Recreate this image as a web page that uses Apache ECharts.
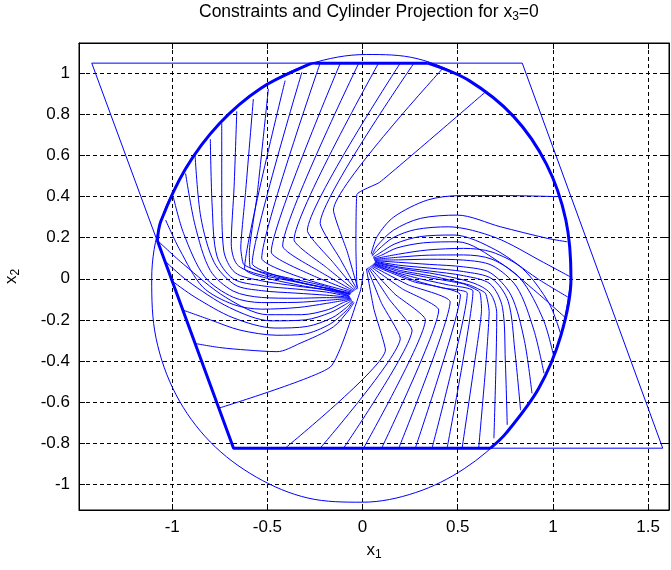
<!DOCTYPE html>
<html>
<head>
<meta charset="utf-8">
<script src="https://cdn.jsdelivr.net/npm/echarts@6/dist/echarts.min.js"></script>
<style>
html,body{margin:0;padding:0;background:#fff;}
#chart{width:671px;height:570px;}
</style>
</head>
<body>
<div id="chart"></div>
<script>
// ---------- data ----------
const xExtent = [-1.49, 1.61];
const yExtent = [-1.126, 1.148];

// projection of the cylinder (thin closed curve)
const cylinderCurve = [[1.095,0],[1.068,0.286],[0.966,0.558],[0.792,0.792],[0.558,0.966],[0.286,1.072],[0.02,1.092],[-0.279,1.045],[-0.534,0.928],[-0.753,0.755],[-0.93,0.536],[-1.06,0.28],[-1.108,0],[-1.085,-0.29],[-0.98,-0.565],[-0.8,-0.795],[-0.558,-0.966],[-0.286,-1.068],[0,-1.088],[0.279,-1.041],[0.534,-0.925],[0.753,-0.753],[0.925,-0.534],[1.041,-0.279],[1.095,0]];

// linear constraints (thin parallelogram)
const constraintBox = [[-1.423,1.05],[0.839,1.05],[1.577,-0.825],[-0.678,-0.825],[-1.423,1.05]];

// boundary of the feasible set (thick)
const feasibleRightArc = [[0.342,1.05],[0.558,0.966],[0.792,0.792],[0.966,0.558],[1.068,0.286],[1.095,0],[1.041,-0.279],[0.925,-0.534],[0.753,-0.753],[0.672,-0.825]];
const feasibleLeftArc = [[-1.078,0.185],[-1.06,0.28],[-0.93,0.536],[-0.753,0.755],[-0.534,0.928],[-0.279,1.045],[-0.25,1.05]];
const feasibleTop = [[-0.25,1.05],[0.342,1.05]];
const feasibleBottomLeft = [[0.672,-0.825],[-0.678,-0.825],[-1.078,0.185]];

// trajectories starting on the right arc (end near upper cluster)
const rightArcPaths = [
 [[1.02,0.40],[0.75,0.405],[0.514,0.405],[0.34,0.383],[0.163,0.30],[0.076,0.205],[0.045,0.12]],
 [[1.075,0.18],[0.97,0.197],[0.725,0.253],[0.497,0.31],[0.304,0.294],[0.163,0.237],[0.076,0.16],[0.05,0.115]],
 [[1.09,0.01],[0.95,0.08],[0.70,0.20],[0.45,0.253],[0.28,0.24],[0.16,0.20],[0.08,0.14],[0.05,0.11]],
 [[1.08,-0.09],[0.92,0.0],[0.70,0.14],[0.48,0.213],[0.30,0.205],[0.17,0.17],[0.09,0.125],[0.055,0.105]],
 [[1.06,-0.185],[0.92,-0.07],[0.72,0.08],[0.50,0.18],[0.32,0.175],[0.18,0.15],[0.10,0.115],[0.055,0.10]],
 [[1.04,-0.266],[0.98,-0.12],[0.84,0.05],[0.68,0.13],[0.53,0.148],[0.34,0.14],[0.19,0.12],[0.06,0.097]],
 [[1.005,-0.38],[0.95,-0.2],[0.83,0.0],[0.68,0.095],[0.53,0.116],[0.35,0.115],[0.19,0.105],[0.06,0.094]],
 [[0.953,-0.46],[0.90,-0.25],[0.81,-0.04],[0.68,0.065],[0.53,0.091],[0.35,0.095],[0.19,0.092],[0.06,0.091]],
 [[0.89,-0.558],[0.85,-0.3],[0.78,-0.08],[0.67,0.03],[0.53,0.058],[0.35,0.07],[0.19,0.08],[0.065,0.088]],
 [[0.83,-0.64],[0.80,-0.35],[0.765,-0.11],[0.68,0.0],[0.53,0.035],[0.35,0.052],[0.19,0.066],[0.065,0.085]],
 [[0.76,-0.712],[0.75,-0.4],[0.735,-0.14],[0.67,-0.025],[0.53,0.015],[0.35,0.038],[0.19,0.057],[0.065,0.082]],
 [[0.69,-0.777],[0.70,-0.45],[0.705,-0.17],[0.67,-0.07],[0.58,-0.02],[0.40,0.02],[0.2,0.05],[0.065,0.079]]
];

// trajectories starting on the bottom edge (end near upper cluster)
const bottomPaths = [
 [[0.61,-0.825],[0.645,-0.45],[0.665,-0.16],[0.645,-0.07],[0.56,-0.03],[0.38,0.01],[0.2,0.04],[0.062,0.076]],
 [[0.523,-0.825],[0.59,-0.40],[0.625,-0.15],[0.615,-0.065],[0.53,-0.025],[0.35,0.005],[0.19,0.035],[0.06,0.074]],
 [[0.444,-0.825],[0.58,-0.06],[0.45,-0.03],[0.30,0.0],[0.16,0.035],[0.058,0.072]],
 [[0.365,-0.825],[0.55,-0.07],[0.42,-0.045],[0.28,-0.01],[0.055,0.07]],
 [[0.277,-0.825],[0.514,-0.079],[0.27,-0.015],[0.05,0.067]],
 [[0.19,-0.825],[0.46,-0.112],[0.24,-0.03],[0.045,0.064]],
 [[0.10,-0.825],[0.40,-0.152],[0.21,-0.05],[0.04,0.061]],
 [[0.005,-0.825],[0.33,-0.20],[0.17,-0.075],[0.035,0.058]],
 [[-0.10,-0.825],[0.26,-0.25],[0.14,-0.10],[0.03,0.055]],
 [[-0.223,-0.825],[0.198,-0.29],[0.10,-0.12],[0.025,0.052]],
 [[-0.407,-0.825],[0.12,-0.347],[0.06,-0.15],[0.02,0.049]]
];

// trajectories starting on the left side / upper-left arc (end near lower cluster)
const leftArcPaths = [
 [[-0.881,-0.315],[-0.75,-0.335],[-0.608,-0.347],[-0.45,-0.355],[-0.328,-0.314],[-0.153,-0.234],[-0.07,-0.15],[-0.045,-0.115]],
 [[-0.945,-0.152],[-0.80,-0.20],[-0.644,-0.25],[-0.45,-0.275],[-0.31,-0.27],[-0.17,-0.22],[-0.08,-0.15],[-0.05,-0.11]],
 [[-1.002,-0.01],[-0.88,-0.09],[-0.68,-0.19],[-0.46,-0.24],[-0.29,-0.232],[-0.16,-0.19],[-0.085,-0.14],[-0.053,-0.108]],
 [[-1.042,0.09],[-0.92,-0.01],[-0.70,-0.14],[-0.48,-0.205],[-0.30,-0.20],[-0.17,-0.165],[-0.09,-0.125],[-0.056,-0.105]],
 [[-1.076,0.185],[-0.94,0.07],[-0.72,-0.09],[-0.50,-0.175],[-0.32,-0.175],[-0.18,-0.15],[-0.10,-0.115],[-0.058,-0.102]],
 [[-1.035,0.286],[-0.96,0.14],[-0.84,-0.04],[-0.68,-0.125],[-0.53,-0.148],[-0.34,-0.14],[-0.19,-0.12],[-0.06,-0.099]],
 [[-0.995,0.40],[-0.94,0.22],[-0.83,0.01],[-0.68,-0.09],[-0.53,-0.116],[-0.35,-0.115],[-0.19,-0.105],[-0.062,-0.096]],
 [[-0.93,0.513],[-0.88,0.26],[-0.80,0.04],[-0.68,-0.06],[-0.53,-0.091],[-0.35,-0.095],[-0.19,-0.092],[-0.064,-0.093]],
 [[-0.88,0.60],[-0.85,0.30],[-0.78,0.08],[-0.67,-0.03],[-0.53,-0.058],[-0.35,-0.07],[-0.19,-0.08],[-0.066,-0.09]],
 [[-0.80,0.68],[-0.79,0.35],[-0.765,0.11],[-0.68,0.0],[-0.53,-0.034],[-0.35,-0.05],[-0.19,-0.065],[-0.068,-0.087]],
 [[-0.74,0.757],[-0.74,0.40],[-0.73,0.14],[-0.67,0.03],[-0.53,-0.01],[-0.35,-0.035],[-0.19,-0.055],[-0.07,-0.084]],
 [[-0.661,0.815],[-0.675,0.45],[-0.69,0.17],[-0.66,0.07],[-0.56,0.025],[-0.37,-0.012],[-0.2,-0.045],[-0.072,-0.081]]
];

// trajectories starting on the top edge (end near lower cluster)
const topPaths = [
 [[-0.574,0.875],[-0.615,0.42],[-0.64,0.15],[-0.625,0.07],[-0.54,0.035],[-0.37,0.0],[-0.2,-0.035],[-0.066,-0.078]],
 [[-0.495,0.925],[-0.555,0.40],[-0.595,0.13],[-0.59,0.055],[-0.50,0.02],[-0.34,-0.015],[-0.19,-0.045],[-0.064,-0.075]],
 [[-0.407,0.965],[-0.62,0.05],[-0.34,-0.03],[-0.063,-0.072]],
 [[-0.319,1.005],[-0.58,0.075],[-0.32,-0.02],[-0.06,-0.069]],
 [[-0.223,1.05],[-0.53,0.10],[-0.29,-0.005],[-0.055,-0.066]],
 [[-0.117,1.05],[-0.48,0.13],[-0.26,0.015],[-0.05,-0.063]],
 [[-0.02,1.05],[-0.42,0.16],[-0.225,0.035],[-0.045,-0.06]],
 [[0.084,1.05],[-0.36,0.19],[-0.19,0.055],[-0.04,-0.057]],
 [[0.198,1.05],[-0.29,0.235],[-0.155,0.08],[-0.035,-0.054]],
 [[0.27,1.05],[-0.223,0.27],[-0.12,0.10],[-0.03,-0.051]],
 [[0.427,1.03],[-0.153,0.335],[-0.08,0.13],[-0.025,-0.048]]
];

// two long trajectories crossing the plot
const crossPaths = [
 [[0.646,0.91],[0.09,0.47],[-0.03,0.41],[-0.035,0.15],[-0.03,-0.04]],
 [[-0.755,-0.63],[-0.17,-0.43],[-0.012,-0.06],[0.005,0.035]]
];

// ---------- chart ----------
const BLUE = '#0000ff';
const FONT = "'Liberation Sans', Arial, sans-serif";

function lineSeries(data, width, smooth) {
  return {
    type: 'line', data: data, xAxisIndex: 0, yAxisIndex: 0,
    showSymbol: false, symbol: 'none', smooth: smooth || false,
    lineStyle: { color: BLUE, width: width }, silent: true, animation: false, z: 3
  };
}

const series = [];
series.push(lineSeries(cylinderCurve, 1, 0.34));
series.push(lineSeries(constraintBox, 1, false));
[rightArcPaths, leftArcPaths].forEach(g => g.forEach(p => series.push(lineSeries(p, 1, 0.3))));
[bottomPaths, topPaths, crossPaths].forEach(g => g.forEach(p => series.push(lineSeries(p, 1, 0.15))));
series.push(lineSeries(feasibleRightArc, 3, 0.34));
series.push(lineSeries(feasibleLeftArc, 3, 0.34));
series.push(lineSeries(feasibleTop, 3, false));
series.push(lineSeries(feasibleBottomLeft, 3, false));

const gridDash = { color: '#000', width: 1, type: [4, 3] };
const labelStyle = { color: '#000', fontSize: 17, fontFamily: FONT, margin: 9, showMinLabel: false, showMaxLabel: false };
const subRich = { s: { fontSize: 12, color: '#000', fontFamily: FONT, padding: [9, 0, 0, 0] } };

const chart = echarts.init(document.getElementById('chart'), null, { renderer: 'canvas' });
chart.setOption({
  animation: false,
  backgroundColor: '#fff',
  title: {
    text: 'Constraints and Cylinder Projection for x{s|3}=0',
    left: 199, top: 2, padding: 0,
    textStyle: { fontSize: 17.5, fontWeight: 'normal', color: '#000', fontFamily: FONT, rich: subRich }
  },
  grid: { left: 79, right: 2, top: 43, bottom: 60, show: true, borderColor: '#000', borderWidth: 1,
          backgroundColor: '#fff', containLabel: false, outerBoundsMode: 'none' },
  xAxis: [{
    type: 'value', min: xExtent[0], max: xExtent[1], splitNumber: 6, position: 'bottom',
    axisLine: { onZero: false, lineStyle: { color: '#000' } },
    axisTick: { inside: true, length: 6, lineStyle: { color: '#000' } },
    axisLabel: labelStyle,
    splitLine: { show: true, lineStyle: gridDash },
    name: 'x{s|1}', nameLocation: 'middle', nameGap: 30,
    nameTextStyle: { fontSize: 17, color: '#000', fontFamily: FONT, rich: subRich }
  }, {
    type: 'value', min: xExtent[0], max: xExtent[1], splitNumber: 6, position: 'top',
    axisLine: { onZero: false, lineStyle: { color: '#000' } },
    axisTick: { inside: true, length: 6, lineStyle: { color: '#000' } },
    axisLabel: { show: false }, splitLine: { show: false }
  }],
  yAxis: [{
    type: 'value', min: yExtent[0], max: yExtent[1], splitNumber: 11, position: 'left',
    axisLine: { onZero: false, lineStyle: { color: '#000' } },
    axisTick: { inside: true, length: 6, lineStyle: { color: '#000' } },
    axisLabel: labelStyle,
    splitLine: { show: true, lineStyle: gridDash },
    name: 'x{s|2}', nameLocation: 'middle', nameGap: 57, nameRotate: 90,
    nameTextStyle: { fontSize: 17, color: '#000', fontFamily: FONT, rich: subRich }
  }, {
    type: 'value', min: yExtent[0], max: yExtent[1], splitNumber: 11, position: 'right',
    axisLine: { onZero: false, lineStyle: { color: '#000' } },
    axisTick: { inside: true, length: 6, lineStyle: { color: '#000' } },
    axisLabel: { show: false }, splitLine: { show: false }
  }],
  series: series
});
</script>
</body>
</html>
